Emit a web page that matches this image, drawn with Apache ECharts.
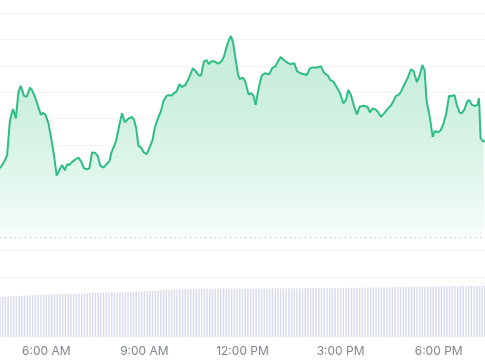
<!DOCTYPE html>
<html>
<head>
<meta charset="utf-8">
<script src="https://cdn.jsdelivr.net/npm/echarts@6/dist/echarts.min.js"></script>
<style>
html,body{margin:0;padding:0;background:#fff;}
#chart{width:485px;height:360px;}
</style>
</head>
<body>
<div id="chart"></div>
<script>
// ---- data ----
const priceTimes = [
"4:35","4:41","4:48","4:50","4:53","4:57","4:59","5:04","5:09","5:13","5:16","5:19","5:24","5:30","5:34","5:39","5:44","5:50","5:53","5:58",
"6:04","6:10","6:14","6:19","6:24","6:29","6:34","6:38","6:42","6:48","6:54","6:59","7:04","7:09","7:15","7:19","7:24","7:29","7:34","7:39",
"7:45","7:50","7:56","7:59","8:08","8:14","8:19","8:24","8:31","8:37","8:41","8:45","8:49","8:54","8:59","9:04","9:09","9:15","9:19","9:26",
"9:30","9:35","9:41","9:46","9:50","9:55","9:59","10:04","10:09","10:15","10:21","10:29","10:34","10:40","10:44","10:49","10:54","10:58","11:04","11:09",
"11:15","11:21","11:26","11:31","11:35","11:39","11:43","11:48","11:52","11:55","12:01","12:05","12:11","12:16","12:20","12:24","12:29","12:35","12:41","12:49",
"12:55","13:00","13:05","13:10","13:16","13:22","13:29","13:35","13:40","13:46","13:53","13:58","14:04","14:11","14:17","14:24","14:30","14:36","14:41","14:47",
"14:53","14:59","15:05","15:10","15:14","15:19","15:25","15:30","15:35","15:42","15:45","15:49","15:54","15:59","16:05","16:09","16:14","16:20","16:26","16:32",
"16:37","16:42","16:46","16:51","16:54","16:58","17:03","17:09","17:14","17:20","17:25","17:30","17:34","17:38","17:43","17:49","17:53","17:59","18:04","18:09",
"18:14","18:19","18:24","18:29","18:33","18:38","18:42","18:47","18:52","18:56","19:01","19:07","19:11","19:14","19:17","19:22","19:25"
];
const priceValues = [
4.12,4.31,4.60,4.65,5.88,6.24,6.36,6.01,7.02,7.24,7.21,6.86,6.83,7.17,7.07,6.83,6.52,6.14,6.22,6.16,
5.82,5.13,4.62,3.84,4.05,4.24,4.04,4.27,4.24,4.37,4.46,4.52,4.37,4.12,4.08,4.12,4.72,4.71,4.60,4.22,
4.14,4.27,4.39,4.69,5.15,5.76,6.20,5.86,6.01,6.06,5.95,5.63,4.97,4.90,4.72,4.65,4.88,5.19,5.66,6.07,
6.26,6.67,6.87,6.89,6.87,6.98,7.02,7.30,7.20,7.27,7.50,7.91,7.80,7.63,7.63,8.16,8.22,8.07,8.18,8.16,
8.08,8.16,8.35,8.72,8.98,9.13,8.85,8.16,7.65,7.50,7.55,7.41,6.92,6.96,6.87,6.52,7.08,7.61,7.72,7.68,
7.93,7.97,8.16,8.33,8.22,8.12,8.06,8.10,7.80,7.72,7.68,7.65,7.91,7.94,7.94,7.98,7.72,7.65,7.46,7.40,
7.19,6.96,6.58,6.71,7.08,6.89,6.45,6.16,6.45,6.49,6.55,6.45,6.24,6.39,6.33,6.24,6.07,6.20,6.36,6.49,
6.67,6.87,6.89,7.02,7.02,7.34,7.53,7.87,7.80,7.38,7.63,8.03,7.84,6.64,6.14,5.31,5.53,5.48,5.57,5.82,
6.20,6.86,6.86,6.89,6.54,6.24,6.20,6.33,6.64,6.71,6.52,6.48,6.52,6.77,5.25,5.13,5.15
];
const volumeStart = "4:35";
const volumeStepMinutes = 5;
const volumeValues = [
40.0,40.3,40.5,40.4,40.8,41.0,41.1,41.0,41.4,41.5,41.6,41.5,
41.8,42.0,41.9,42.2,42.4,42.3,42.6,42.7,42.8,42.7,43.0,43.1,
43.0,43.2,43.4,43.3,43.5,43.6,43.5,43.7,43.8,44.0,43.9,44.0,
44.2,44.1,44.3,44.4,44.3,44.5,44.6,44.5,44.7,44.8,44.7,45.0,
45.2,45.1,45.4,45.5,45.4,45.7,45.9,46.0,46.2,46.4,46.3,46.6,
46.8,46.9,47.0,47.2,47.3,47.4,47.7,47.6,47.8,47.7,47.9,47.8,
48.0,47.9,48.1,48.0,48.1,48.0,48.2,48.1,48.2,48.3,48.2,48.3,
48.2,48.4,48.3,48.3,48.4,48.3,48.3,48.4,48.2,48.4,48.5,48.4,
48.5,48.4,48.6,48.5,48.6,48.5,48.7,48.6,48.6,48.7,48.6,48.7,
48.7,48.8,48.7,48.8,48.8,48.9,48.8,48.9,48.9,49.0,48.9,49.0,
49.0,48.9,49.0,49.1,49.0,49.0,49.1,49.2,49.1,49.2,49.3,49.2,
49.3,49.4,49.3,49.4,49.5,49.4,49.5,49.6,49.5,49.6,49.7,49.7,
49.8,49.7,49.9,50.0,49.9,50.0,50.1,50.0,50.2,50.1,50.3,50.2,
50.4,50.3,50.5,50.4,50.6,50.5,50.7,50.6,50.8,50.7,50.8,50.9,
50.8,51.0,50.9,51.0,51.1,51.0,51.0,51.1,51.0,51.1,51.0
];
const tickHours = [6, 9, 12, 15, 18];
const tickLabels = ["6:00 AM", "9:00 AM", "12:00 PM", "3:00 PM", "6:00 PM"];
const viewStart = "4:35";
const viewEnd = "19:25";
const priceMin = 0, priceMax = 10, priceStep = 1;
const referenceLevel = 1.5;
const volumeMax = 60;

// ---- build ----
function toHours(s){ const p = s.split(":"); return (+p[0]) + (+p[1]) / 60; }
const linePairs = priceTimes.map((t, i) => [toHours(t), priceValues[i]]);
const vStart = toHours(volumeStart);
const volPairs = volumeValues.map((v, i) => [vStart + i * volumeStepMinutes / 60, v]);
const xMin = toHours(viewStart), xMax = toHours(viewEnd);

const GREEN = '#2ebd85';
const chart = echarts.init(document.getElementById('chart'), null, {renderer: 'canvas'});
chart.setOption({
  animation: false,
  backgroundColor: '#ffffff',
  grid: [
    {left: 0, right: 0, top: 13, bottom: 83},
    {left: 0, right: 0, top: 277, bottom: 23}
  ],
  xAxis: [
    {type: 'value', gridIndex: 0, min: xMin, max: xMax,
     axisLine: {show: false}, axisTick: {show: false}, axisLabel: {show: false}, splitLine: {show: false}},
    {type: 'value', gridIndex: 1, min: xMin, max: xMax,
     axisLine: {show: false}, axisTick: {show: false}, splitLine: {show: false},
     axisLabel: {
       customValues: tickHours,
       formatter: function (v) { const k = tickHours.indexOf(Math.round(v)); return k >= 0 ? tickLabels[k] : ''; },
       color: '#80868f', fontSize: 12, fontFamily: 'Inter, "Noto Sans", sans-serif', margin: 8
     }}
  ],
  yAxis: [
    {type: 'value', gridIndex: 0, min: priceMin, max: priceMax, interval: priceStep,
     axisLine: {show: false}, axisTick: {show: false}, axisLabel: {show: false},
     splitLine: {show: true, lineStyle: {color: '#f3f4f6', width: 1}}},
    {type: 'value', gridIndex: 1, min: 0, max: volumeMax,
     axisLine: {show: false}, axisTick: {show: false}, axisLabel: {show: false}, splitLine: {show: false}}
  ],
  series: [
    {
      type: 'bar', xAxisIndex: 1, yAxisIndex: 1, data: volPairs,
      barWidth: 1.5, itemStyle: {color: '#d9dcec'}, silent: true
    },
    {
      type: 'line', xAxisIndex: 0, yAxisIndex: 0, data: linePairs,
      showSymbol: false, symbol: 'none', smooth: false,
      lineStyle: {color: GREEN, width: 2},
      areaStyle: {
        origin: 'start', opacity: 1,
        color: new echarts.graphic.LinearGradient(0, 0, 0, 1, [
          {offset: 0, color: '#c3ebd8'},
          {offset: 0.3, color: '#cff0e0'},
          {offset: 0.6, color: '#e2f7ed'},
          {offset: 0.8, color: '#f3fcf8'},
          {offset: 0.84, color: 'rgba(250,254,252,0.6)'},
          {offset: 0.87, color: 'rgba(255,255,255,0)'},
          {offset: 1, color: 'rgba(255,255,255,0)'}
        ])
      },
      markLine: {
        silent: true, symbol: 'none', label: {show: false},
        lineStyle: {type: [1, 4], color: '#b9bcc2', width: 1},
        data: [{yAxis: referenceLevel}]
      }
    }
  ]
});
</script>
</body>
</html>
